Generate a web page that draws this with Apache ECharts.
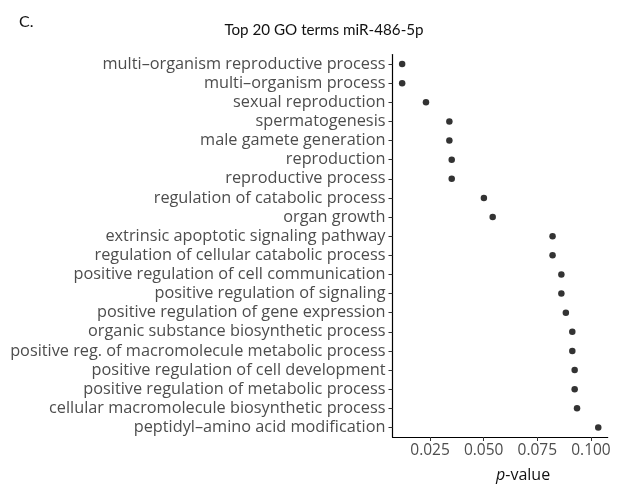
<!DOCTYPE html>
<html>
<head>
<meta charset="utf-8">
<script src="https://cdn.jsdelivr.net/npm/echarts@6/dist/echarts.min.js"></script>
<style>html,body{margin:0;padding:0;background:#fff}#c{width:632px;height:488px}</style>
</head>
<body>
<div id="c"></div>
<script>
const categories = [
  "multi\u2013organism reproductive process",
  "multi\u2013organism process",
  "sexual reproduction",
  "spermatogenesis",
  "male gamete generation",
  "reproduction",
  "reproductive process",
  "regulation of catabolic process",
  "organ growth",
  "extrinsic apoptotic signaling pathway",
  "regulation of cellular catabolic process",
  "positive regulation of cell communication",
  "positive regulation of signaling",
  "positive regulation of gene expression",
  "organic substance biosynthetic process",
  "positive reg. of macromolecule metabolic process",
  "positive regulation of cell development",
  "positive regulation of metabolic process",
  "cellular macromolecule biosynthetic process",
  "peptidyl\u2013amino acid modification"
];
const pValues = [0.0120, 0.0120, 0.0231, 0.0340, 0.0340, 0.0351, 0.0351, 0.0501, 0.0542, 0.0821,
                 0.0821, 0.0862, 0.0862, 0.0883, 0.0913, 0.0913, 0.0924, 0.0924, 0.0935, 0.1034];
const xTicks = [0.025, 0.050, 0.075, 0.100];

const chart = echarts.init(document.getElementById('c'), null, {renderer: 'canvas'});
const font = "'Open Sans', sans-serif";
chart.setOption({
  animation: false,
  backgroundColor: '#fff',
  title: [
    {text: 'Top 20 GO terms miR-486-5p', left: 319, top: 18, textAlign: 'center',
     textStyle: {fontFamily: 'Lato, sans-serif', fontSize: 15.2, fontWeight: 'normal', color: '#111'}},
    {text: 'C.', left: 14, top: 9,
     textStyle: {fontFamily: 'Lato, sans-serif', fontSize: 16, fontWeight: 'normal', color: '#111'}}
  ],
  grid: {left: 392.5, right: 24.3, top: 54.5, bottom: 51, containLabel: false},
  xAxis: {
    type: 'value', min: 0.0075, max: 0.1078,
    axisLine: {show: true, lineStyle: {color: '#000', width: 1.2}},
    axisTick: {show: true, length: 4, lineStyle: {color: '#333'}, customValues: xTicks},
    axisLabel: {customValues: xTicks, color: '#4d4d4d', fontFamily: font, fontSize: 15.5, margin: 6,
      formatter: v => v.toFixed(3)},
    splitLine: {show: false},
    name: '{i|p}-value', nameLocation: 'middle', nameGap: 30,
    nameTextStyle: {color: '#111', fontFamily: font, fontSize: 16, padding: [0, 0, 0, 46],
      rich: {i: {fontStyle: 'italic', fontFamily: font, fontSize: 16, color: '#111'}}}
  },
  yAxis: {
    type: 'category', data: categories, inverse: true,
    axisLine: {show: true, lineStyle: {color: '#000', width: 1.2}},
    axisTick: {show: true, alignWithLabel: true, length: 4, lineStyle: {color: '#333'}},
    axisLabel: {color: '#4d4d4d', fontFamily: font, fontSize: 16.3, margin: 7, interval: 0},
    splitLine: {show: false}
  },
  series: [{
    type: 'scatter',
    data: pValues.map((v, i) => [v, categories[i]]),
    symbolSize: 6.5,
    itemStyle: {color: '#000'}
  }]
});
</script>
</body>
</html>
